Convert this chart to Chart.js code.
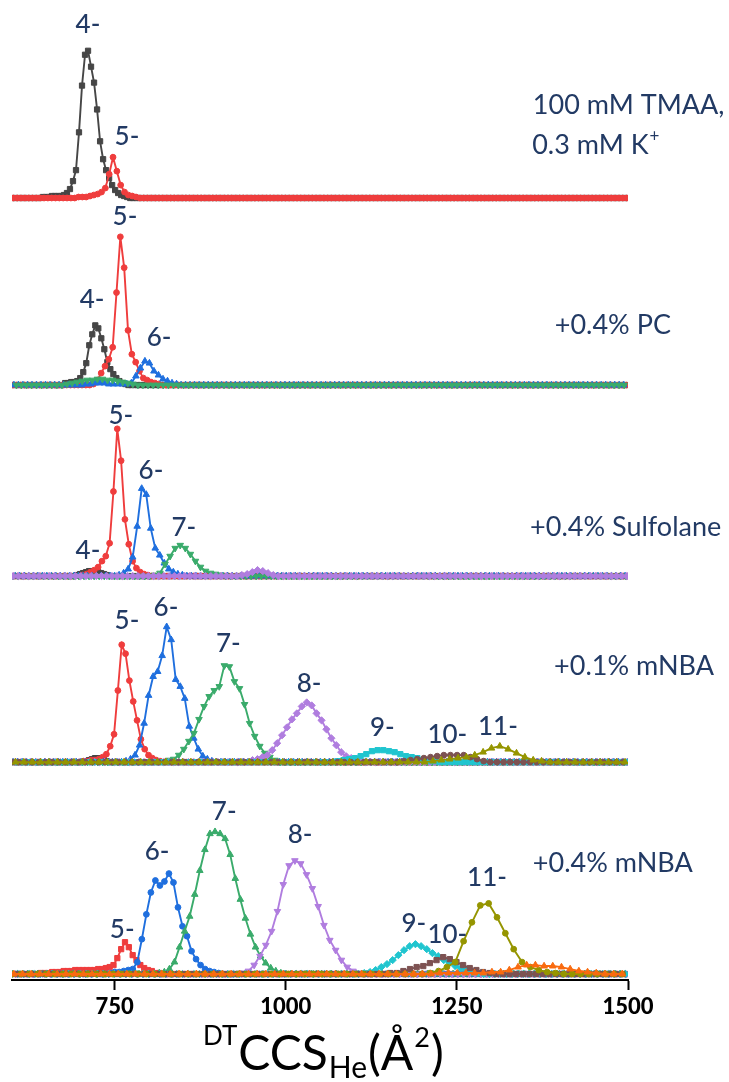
<!DOCTYPE html>
<html>
<head>
<meta charset="utf-8">
<script src="https://cdn.jsdelivr.net/npm/chart.js@4.4.1/dist/chart.umd.min.js"></script>
<style>
  html, body { margin: 0; padding: 0; background: #fff; }
</style>
</head>
<body>
<canvas id="ccsChart" width="729" height="1082"></canvas>
<script>
// shared x axis, CCS in A^2
const xMin = 600;
const xMax = 1500;
const xTicks = [750, 1000, 1250, 1500];

// one y axis per panel (intensity, baseline = 0), top panel first
const panelMin = [-6, -6, -6, -6, -6];
const panelMax = [194, 182, 186, 181, 207];

// arrival distributions: [start CCS, bin width, intensities]
const p1_4 = [645.1, 4.4, [1,1,1,2,2,2,2,3,5,9,17,28,66,113,144,148,132,116,89,57,39,28,20,13,8,5,3,2,1]];
const p1_5 = [697.2, 5.6, [1,1,1,2,3,4,6,10,24,41,27,13,6,3,2,1]];

const p2_4 = [677.7, 4.4, [2,2,3,3,4,7,13,22,40,51,60,57,47,36,23,16,11,7,4,2,1]];
const p2_5 = [719.1, 5.6, [1,5,12,19,26,38,93,149,118,55,31,23,14,7,5,3,2,1]];
const p2_6 = [708.4, 6.6, [1,1,2,2,2,1,1,1,1,1,2,9,17,24,22,14,10,6,4,2,1]];
const p2_7 = [680.4, 7.4, [1,2,3,4,5,5,6,6,5,5,4,3,2,1]];

const p3_4 = [695.0, 4.4, [1,2,3,4,5,5,5,4,3,2,1]];
const p3_5 = [703.4, 5.6, [1,2,4,6,9,15,20,33,85,148,116,57,32,15,8,4,2,1]];
const p3_6 = [756.5, 6.6, [1,3,7,19,50,88,82,48,28,21,13,7,4,2,1]];
const p3_7 = [808.8, 7.4, [1,3,12,20,28,31,28,22,15,9,5,3,2,1]];
const p3_8 = [936.0, 7.6, [1,2,4,6,5,3,1]];

const p4_4 = [708.0, 4.4, [1,2,3,4,4,3,2,1]];
const p4_5 = [704.3, 5.6, [1,1,2,2,3,5,8,16,28,72,118,109,82,61,42,23,13,7,4,2,1]];
const p4_6 = [766.6, 6.6, [1,3,7,17,39,67,86,91,107,136,123,83,76,64,36,24,13,6,3,1]];
const p4_7 = [828.8, 7.4, [2,3,7,13,21,29,43,56,66,72,76,97,96,81,74,58,39,26,16,9,5,2]];
const p4_8 = [951.4, 7.2, [2,3,5,7,12,19,27,35,43,49,56,60,57,49,42,33,24,17,10,6,4,2,1]];
const p4_9 = [1076.1, 8.3, [1,2,3,4,6,8,11,12,12,11,10,8,6,5,4,2,1,1]];
const p4_10 = [1172.7, 9.7, [1,2,3,4,5,6,7,7,7,7,5,3,1]];
const p4_11 = [1215.1, 12.2, [1,2,3,4,5,7,10,14,16,13,9,5,2,1]];

const p5_5 = [641.9, 5.6, [1,1,1,2,2,2,3,3,3,4,4,4,4,4,4,5,5,6,7,9,16,25,32,27,19,14,9,6,4,3,1,1]];
const p5_6 = [743.5, 6.6, [1,2,2,3,4,5,12,35,60,82,94,89,93,101,92,67,48,38,23,15,9,5,3,2,1]];
const p5_7 = [815.2, 7.4, [1,2,5,12,27,43,58,80,104,125,141,143,141,136,120,96,75,56,40,27,18,11,6,3,1]];
const p5_8 = [936.8, 8.5, [1,3,9,18,29,43,63,90,109,114,111,100,86,68,49,34,24,14,7,3,1]];
const p5_9 = [1114.7, 8.3, [1,2,4,7,10,14,19,24,28,30,28,25,21,18,14,11,8,6,4,2,1]];
const p5_10 = [1152.4, 9.7, [1,1,3,5,7,8,11,14,17,15,12,9,6,4,2,1]];
const p5_11 = [1211.0, 12.2, [1,3,7,12,33,52,69,71,57,41,25,12,7,4,2,1]];
const p5_12 = [1225.0, 12.7, [1,1,1,1,1,1,2,2,4,7,9,9,8,8,7,5,3,2,1]];

// [panel, charge, marker, distribution], drawn top-first inside a panel
const seriesList = [
    [0, 5, "circle", p1_5], [0, 4, "rect", p1_4],
    [1, 7, "tridown", p2_7], [1, 6, "triangle", p2_6], [1, 5, "circle", p2_5], [1, 4, "rect", p2_4],
    [2, 8, "diamond", p3_8], [2, 7, "tridown", p3_7], [2, 6, "triangle", p3_6], [2, 5, "circle", p3_5], [2, 4, "rect", p3_4],
    [3, 11, "triangle", p4_11], [3, 10, "circle", p4_10], [3, 9, "rect", p4_9], [3, 8, "diamond", p4_8],
    [3, 7, "tridown", p4_7], [3, 6, "triangle", p4_6], [3, 5, "circle", p4_5], [3, 4, "rect", p4_4],
    [4, 12, "triangle", p5_12], [4, 11, "circle", p5_11], [4, 10, "rect", p5_10], [4, 9, "diamond", p5_9],
    [4, 8, "tridown", p5_8], [4, 7, "triangle", p5_7], [4, 6, "circle", p5_6], [4, 5, "rect", p5_5]
];

// charge state labels: [panel, text, CCS, intensity]
const peakLabels = [
    [0, "4-", 711, 174], [0, "5-", 768, 62],
    [1, "5-", 765, 169], [1, "4-", 717, 86], [1, "6-", 815, 48],
    [2, "5-", 759, 161], [2, "6-", 803, 106], [2, "7-", 851, 49], [2, "4-", 711, 26],
    [3, "5-", 768, 142], [3, "6-", 825, 155], [3, "7-", 916, 119], [3, "8-", 1034, 79],
    [3, "9-", 1141, 35], [3, "10-", 1236, 28], [3, "11-", 1310, 36],
    [4, "5-", 761, 45], [4, "6-", 812, 123], [4, "7-", 910, 163], [4, "8-", 1021, 140],
    [4, "9-", 1187, 51], [4, "10-", 1236, 40], [4, "11-", 1294, 97]
];

// solution conditions: [panel, text, CCS (left edge), intensity]
const conditionLabels = [
    [0, "100 mM TMAA,", 1361, 93],
    [0, "0.3 mM K", 1360, 53],
    [1, "+0.4% PC", 1393, 60],
    [2, "+0.4% Sulfolane", 1357, 49],
    [3, "+0.1% mNBA", 1392, 96],
    [4, "+0.4% mNBA", 1361, 111]
];

const chargeColors = {
    4: "#464646", 5: "#ef3d3d", 6: "#1f6fde", 7: "#3aab6b", 8: "#b07ddf",
    9: "#20c5cf", 10: "#7d5252", 11: "#959500", 12: "#f96b10"
};
const textColor = "#223a64";

function buildPoints(dist) {
    const [start, step, values] = dist;
    const pts = [];
    for (let k = Math.ceil((xMin - start) / step); start + k * step <= xMax; k++) {
        pts.push({ x: start + k * step, y: (k >= 0 && k < values.length) ? values[k] : 0 });
    }
    return pts;
}

function markerStyle(marker) {
    if (marker === "tridown") return { pointStyle: "triangle", rotation: 180, radius: 3.8 };
    if (marker === "triangle") return { pointStyle: "triangle", rotation: 0, radius: 3.8 };
    if (marker === "diamond") return { pointStyle: "rectRot", rotation: 0, radius: 3.6 };
    if (marker === "rect") return { pointStyle: "rect", rotation: 0, radius: 3.7 };
    return { pointStyle: "circle", rotation: 0, radius: 2.9 };
}

const datasets = seriesList.map(([panel, charge, marker, dist]) => {
    const color = chargeColors[charge];
    const m = markerStyle(marker);
    return {
        label: `panel ${panel + 1} ${charge}-`,
        data: buildPoints(dist),
        yAxisID: "y" + panel,
        borderColor: color,
        backgroundColor: color,
        borderWidth: 1.9,
        pointStyle: m.pointStyle,
        pointRotation: m.rotation,
        pointRadius: m.radius,
        pointBorderWidth: 1,
        pointBackgroundColor: color,
        pointBorderColor: color,
        tension: 0
    };
});

const scales = {
    x: {
        type: "linear",
        min: xMin,
        max: xMax,
        afterBuildTicks: scale => {
            scale.ticks = xTicks.map(v => ({ value: v }));
        },
        afterFit: scale => {
            scale.height = 102;
        },
        ticks: {
            color: "#000",
            font: { family: "Lato", size: 22, weight: "900" },
            padding: 4,
            maxRotation: 0,
            autoSkip: false,
            callback: value => String(value)
        },
        grid: {
            drawOnChartArea: false,
            drawTicks: true,
            tickLength: 10,
            tickWidth: 2,
            tickColor: "#000"
        },
        border: { display: true, color: "#000", width: 2 }
    }
};

// stacked left axes are laid out last-defined on top, so add the bottom panel first
for (let p = panelMin.length - 1; p >= 0; p--) {
    scales["y" + p] = {
        type: "linear",
        position: "left",
        stack: "panels",
        stackWeight: panelMax[p] - panelMin[p],
        min: panelMin[p],
        max: panelMax[p],
        grid: { display: false },
        border: { display: false },
        ticks: { display: false },
        afterFit: scale => {
            scale.width = 0;
        }
    };
}

const textPlugin = {
    id: "panelText",
    afterDatasetsDraw(chart) {
        const { ctx } = chart;
        const sx = chart.scales.x;
        ctx.save();
        ctx.fillStyle = textColor;
        ctx.textBaseline = "middle";

        ctx.font = "500 26px Lato";
        ctx.textAlign = "center";
        peakLabels.forEach(([p, text, x, y]) => {
            ctx.fillText(text, sx.getPixelForValue(x), chart.scales["y" + p].getPixelForValue(y));
        });

        ctx.textAlign = "left";
        conditionLabels.forEach(([p, text, x, y]) => {
            ctx.font = "27px Lato";
            const px = sx.getPixelForValue(x);
            const py = chart.scales["y" + p].getPixelForValue(y);
            ctx.fillText(text, px, py);
            if (text.endsWith("K")) {
                const w = ctx.measureText(text).width;
                ctx.font = "17px Lato";
                ctx.fillText("+", px + w + 1, py - 9);
            }
        });
        ctx.restore();

        // axis title: DT CCS He (Å2)
        const pieces = [
            ["DT", 26, -25],
            ["CCS", 48, 0],
            ["He", 30, 8],
            ["(Å", 48, 0],
            ["2", 27, -23],
            [")", 48, 0]
        ];
        ctx.save();
        ctx.fillStyle = "#000";
        ctx.textBaseline = "alphabetic";
        ctx.textAlign = "left";
        let tx = 203;
        const baseY = 1070;
        pieces.forEach(([t, size, dy]) => {
            ctx.font = `${size}px Lato`;
            ctx.fillText(t, tx, baseY + dy);
            tx += ctx.measureText(t).width + 1;
        });
        ctx.restore();
    }
};

new Chart(document.getElementById("ccsChart"), {
    type: "line",
    data: { datasets },
    options: {
        responsive: false,
        animation: false,
        events: [],
        layout: { padding: { left: 12, right: 101, top: 0, bottom: 0 } },
        plugins: {
            legend: { display: false },
            tooltip: { enabled: false }
        },
        scales
    },
    plugins: [textPlugin]
});
</script>
</body>
</html>
